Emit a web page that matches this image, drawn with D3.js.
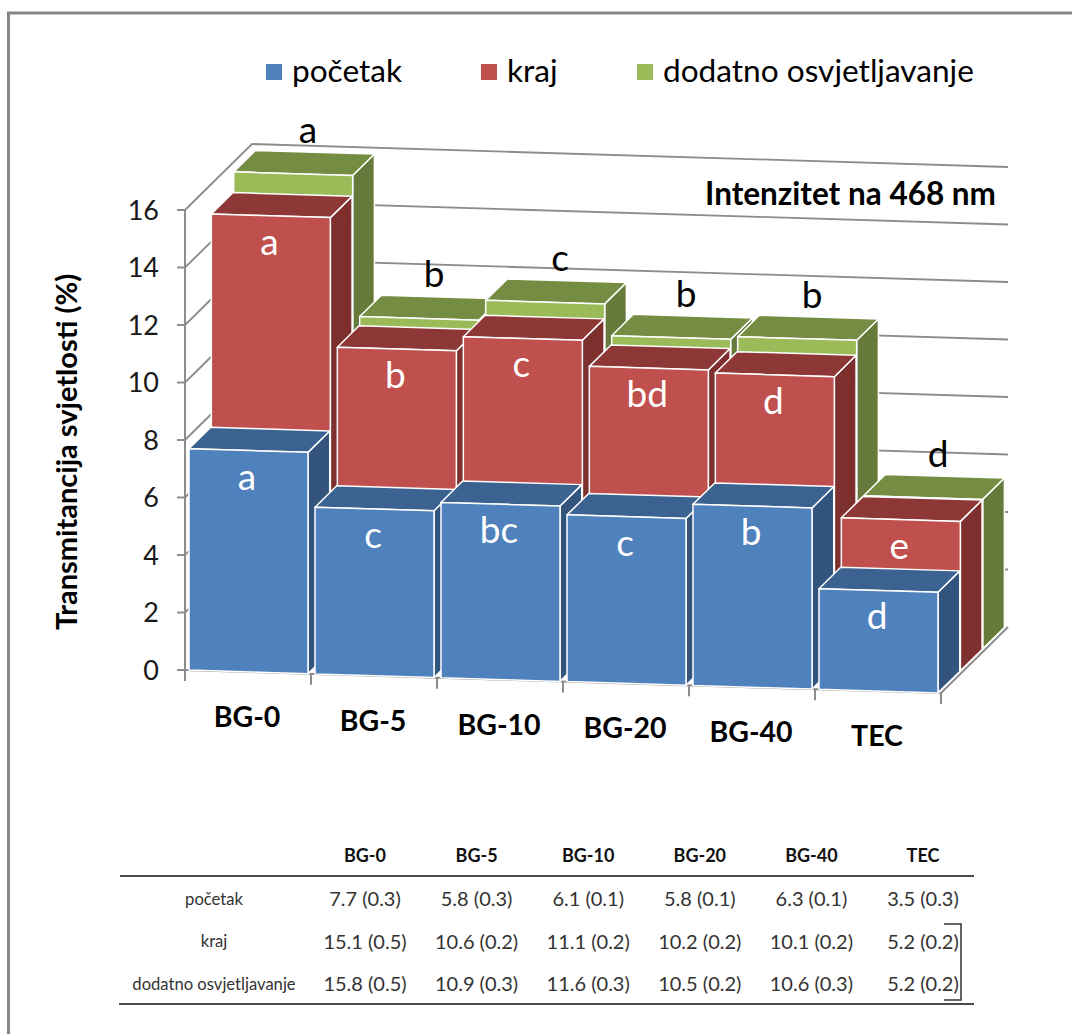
<!DOCTYPE html>
<html><head><meta charset="utf-8">
<style>html,body{margin:0;padding:0;background:#fff}svg{display:block}</style>
<script src="https://d3js.org/d3.v7.min.js"></script></head>
<body><svg id="c" width="1072" height="1034"></svg>
<script>
const categories = ["BG-0","BG-5","BG-10","BG-20","BG-40","TEC"];
const seriesNames = ["početak","kraj","dodatno osvjetljavanje"];
const pocetak = [7.7,5.8,6.1,5.8,6.3,3.5];
const kraj = [15.1,10.6,11.1,10.2,10.1,5.2];
const dodatno = [15.8,10.9,11.6,10.5,10.6,5.2];
const pocetakSd = [0.3,0.3,0.1,0.1,0.1,0.3];
const krajSd = [0.5,0.2,0.2,0.2,0.2,0.2];
const dodatnoSd = [0.5,0.3,0.3,0.2,0.3,0.2];
const pocetakLetters = ["a","c","bc","c","b","d"];
const krajLetters = ["a","b","c","bd","d","e"];
const dodatnoLetters = ["a","b","c","b","b","d"];
const yTicks = [0,2,4,6,8,10,12,14,16];
const values = [pocetak,kraj,dodatno], sds=[pocetakSd,krajSd,dodatnoSd], letters=[pocetakLetters,krajLetters,dodatnoLetters];
const faces = [
 {front:"#4F81BD",top:"#3B6290",side:"#32547D"},
 {front:"#C0504D",top:"#8D3836",side:"#7D302E"},
 {front:"#9BBB59",top:"#758D43",side:"#667A3B"}];
const FONT="Lato, Carlito, sans-serif";
const svg=d3.select("#c");
const x=d3.scaleBand().domain(categories).range([185,941]);
const y=d3.scaleLinear().domain([0,16]).range([670,210]);
const depth=d3.scalePoint().domain([0,1,2,3]).range([0,67]);
const SLOPE=23/756, DY=66/67;
const P=(px,v,d)=>[px+d, y(v)+(px-185)*SLOPE-d*DY];
const poly=pts=>"M"+pts.map(p=>p.join(",")).join("L")+"Z";

// frame: only the top and left edges are inside the picture
svg.append("path").attr("d","M8.5,1034V13H1072").attr("fill","none").attr("stroke","#858585").attr("stroke-width",3);

const chart=svg.append("g").style("filter","blur(0.45px)");
const GRID="#8c8c8c";
const D=depth(3);
yTicks.filter(t=>t>0).forEach(t=>{
  const a=P(185,t,0),b=P(185,t,D),c=P(941,t,D);
  chart.append("path").attr("d",`M${a}L${b}L${c}`).attr("fill","none").attr("stroke",GRID).attr("stroke-width",1.8);
});
chart.append("path").attr("d",`M${P(185,0,0)}L${P(185,16,0)}`).attr("stroke",GRID).attr("stroke-width",2).attr("fill","none");
chart.append("path").attr("d",`M${P(185,0,0)}L${P(941,0,0)}L${P(941,0,D)}`).attr("stroke",GRID).attr("stroke-width",2).attr("fill","none");
yTicks.forEach(t=>{const p=P(185,t,0);
  chart.append("line").attr("x1",p[0]-8).attr("x2",p[0]).attr("y1",p[1]).attr("y2",p[1]).attr("stroke",GRID).attr("stroke-width",2);
});
[...categories.map(c=>x(c)),941].forEach(px=>{const p=P(px,0,0);
  chart.append("line").attr("x1",p[0]).attr("x2",p[0]).attr("y1",p[1]).attr("y2",p[1]+11).attr("stroke",GRID).attr("stroke-width",2);
});
const pad0=4,pad1=3;
[2,1,0].forEach(s=>{
  const d0=depth(s), d1=depth(s+1)-0.6;
  categories.forEach((c,i)=>{
    const v=values[s][i], xl=x(c)+pad0, xr=x(c)+x.bandwidth()-pad1;
    const g=chart.append("g").attr("stroke","#fff").attr("stroke-width",1.5).attr("stroke-linejoin","round");
    g.append("path").attr("fill",faces[s].side).attr("d",poly([P(xr,0,d0),P(xr,v,d0),P(xr,v,d1),P(xr,0,d1)]));
    g.append("path").attr("fill",faces[s].top).attr("d",poly([P(xl,v,d0),P(xr,v,d0),P(xr,v,d1),P(xl,v,d1)]));
    g.append("path").attr("fill",faces[s].front).attr("d",poly([P(xl,0,d0),P(xr,0,d0),P(xr,v,d0),P(xl,v,d0)]));
  });
});
[0,1].forEach(s=>categories.forEach((c,i)=>{
  const cx=x(c)+x.bandwidth()/2, p=P(cx,values[s][i],depth(s));
  svg.append("text").attr("x",p[0]-1).attr("y",p[1]+39).attr("text-anchor","middle")
   .attr("font-family",FONT).attr("font-size",37).attr("fill","#fff").text(letters[s][i]);
}));
categories.forEach((c,i)=>{
  const cx=x(c)+x.bandwidth()/2, p=P(cx,values[2][i],depth(3));
  svg.append("text").attr("x",p[0]-7).attr("y",p[1]-9).attr("text-anchor","middle")
   .attr("font-family",FONT).attr("font-size",37).attr("fill","#000").text(letters[2][i]);
});
yTicks.forEach(t=>svg.append("text").attr("x",159).attr("y",y(t)).attr("dy","0.36em").attr("text-anchor","end")
  .attr("font-family",FONT).attr("font-size",27).attr("fill","#1a1a1a").text(t));
categories.forEach((c,i)=>{
  const cx=x(c)+x.bandwidth()/2;
  svg.append("text").attr("x",cx-1).attr("y",727+i*3.8).attr("text-anchor","middle")
   .attr("font-family",FONT).attr("font-weight",700).attr("font-size",28.5).attr("fill","#000").text(c);
});
svg.append("text").attr("transform","translate(77,452) rotate(-90)").attr("text-anchor","middle")
  .attr("font-family",FONT).attr("font-weight",700).attr("font-size",29).attr("fill","#000").text("Transmitancija  svjetlosti (%)");
svg.append("text").attr("x",996).attr("y",205).attr("text-anchor","end")
  .attr("font-family",FONT).attr("font-weight",700).attr("font-size",31.5).attr("fill","#000").text("Intenzitet na 468 nm");
const legendX=d3.scaleOrdinal().domain(seriesNames).range([266,481,637]);
seriesNames.forEach((n,s)=>{
  const lx=legendX(n);
  svg.append("rect").attr("x",lx).attr("y",64).attr("width",16).attr("height",16).attr("fill",faces[s].front);
  svg.append("text").attr("x",lx+26).attr("y",82).attr("font-family",FONT).attr("font-size",31.6).attr("fill","#000").text(n);
});
const colX=d3.scalePoint().domain(categories).range([365,923]);
const rowY=d3.scalePoint().domain(seriesNames).range([899,984]);
categories.forEach(c=>svg.append("text").attr("x",colX(c)).attr("y",856).attr("dy","0.35em").attr("text-anchor","middle")
  .attr("font-family",FONT).attr("font-weight",700).attr("font-size",18).attr("fill","#111").text(c));
seriesNames.forEach((n,s)=>{
  svg.append("text").attr("x",214).attr("y",rowY(n)).attr("dy","0.35em").attr("text-anchor","middle")
    .attr("font-family",FONT).attr("font-size",16.6).attr("fill","#333").text(n);
  categories.forEach((c,i)=>svg.append("text").attr("x",colX(c)).attr("y",rowY(n)).attr("dy","0.35em").attr("text-anchor","middle")
    .attr("font-family",FONT).attr("font-size",20).attr("fill","#333").text(`${values[s][i].toFixed(1)} (${sds[s][i].toFixed(1)})`));
});
svg.append("line").attr("x1",120).attr("x2",974).attr("y1",876).attr("y2",876).attr("stroke","#111").attr("stroke-width",1.5);
svg.append("line").attr("x1",119).attr("x2",974).attr("y1",1004).attr("y2",1004).attr("stroke","#111").attr("stroke-width",1.5);
svg.append("path").attr("d","M944,924H961V1000H944").attr("fill","none").attr("stroke","#333").attr("stroke-width",1.5);
</script></body></html>
